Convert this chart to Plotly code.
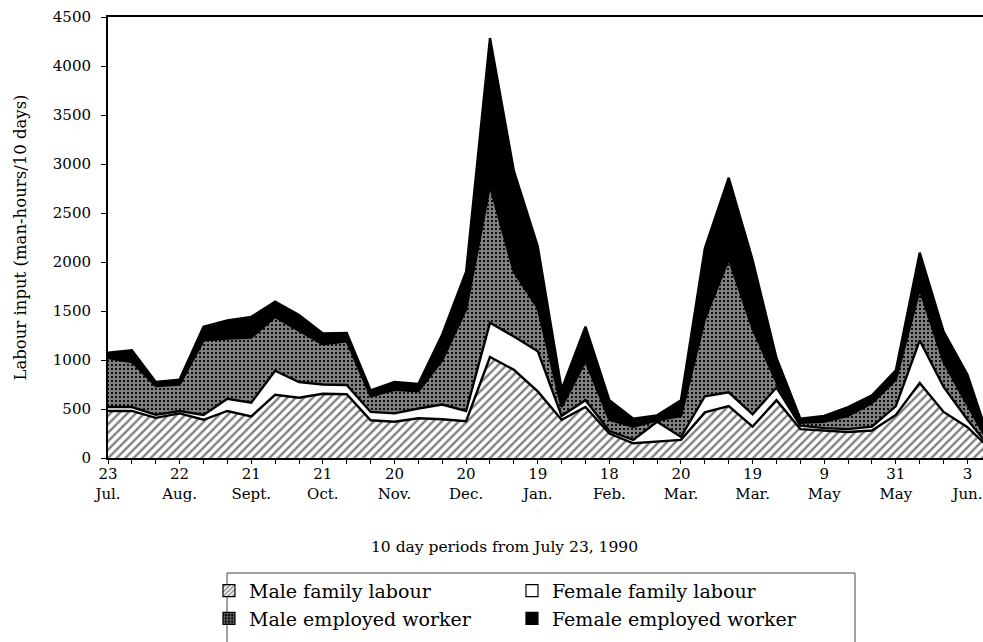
import plotly.graph_objects as go

# 10-day periods starting 23 July 1990 (index 0 = 23 Jul.)
periods = list(range(38))

# labelled periods on the x axis (every third period)
label_pos = [0, 3, 6, 9, 12, 15, 18, 21, 24, 27, 30, 33, 36]
label_day = ["23", "22", "21", "21", "20", "20", "19", "18", "20", "19", "9", "31", "3"]
label_month = ["Jul.", "Aug.", "Sept.", "Oct.", "Nov.", "Dec.", "Jan.", "Feb.",
               "Mar.", "Mar.", "May", "May", "Jun."]

# labour input per 10-day period (man-hours/10 days)
male_family = [480, 480, 410, 455, 390, 480, 425, 645, 615, 655,
               650, 385, 370, 405, 395, 375, 1030, 900, 680, 390,
               520, 250, 150, 165, 185, 465, 530, 320, 590, 295,
               280, 265, 280, 440, 765, 470, 315, 80]
female_family = [40, 40, 30, 25, 50, 125, 140, 245, 160, 95,
                 95, 85, 85, 100, 150, 105, 350, 340, 410, 40,
                 70, 25, 35, 205, 30, 165, 140, 125, 130, 35,
                 25, 30, 40, 90, 435, 255, 75, 10]
male_employed = [500, 460, 295, 270, 760, 615, 665, 550, 525, 410,
                 445, 160, 240, 175, 455, 1040, 1400, 660, 440, 90,
                 400, 115, 135, 15, 215, 790, 1360, 875, 50, 30,
                 65, 135, 240, 270, 520, 255, 150, 15]
female_employed = [55, 120, 40, 50, 140, 185, 210, 155, 160, 110,
                   85, 60, 80, 75, 260, 380, 1505, 1030, 630, 180,
                   350, 200, 80, 50, 160, 720, 830, 700, 250, 40,
                   60, 90, 80, 95, 375, 310, 310, 15]

series_names = ["Male family labour", "Female family labour",
                "Male employed worker", "Female employed worker"]

FONT = "DejaVu Serif"

fig = go.Figure()

hatch = dict(shape="/", fgcolor="black", bgcolor="white", size=6, solidity=0.4)
grid = dict(shape="+", fgcolor="white", bgcolor="black", size=4, solidity=0.8)

area_styles = [
    dict(fillpattern=hatch, fillcolor="white"),
    dict(fillcolor="white"),
    dict(fillpattern=grid, fillcolor="black"),
    dict(fillcolor="black"),
]

for name, vals, style in zip(series_names,
                             [male_family, female_family, male_employed, female_employed],
                             area_styles):
    fig.add_trace(go.Scatter(
        x=periods, y=vals, name=name, stackgroup="labour", mode="lines",
        line=dict(color="black", width=2.4), showlegend=False,
        hoverinfo="skip", **style))

# legend swatches (square keys)
legend_markers = [
    dict(color="white", pattern=dict(shape="/", fgcolor="black", bgcolor="white", size=4, solidity=0.45)),
    dict(color="white"),
    dict(color="black", pattern=dict(shape="+", fgcolor="white", bgcolor="black", size=4, solidity=0.5)),
    dict(color="black"),
]
for name, mk in zip(series_names, legend_markers):
    mk["line"] = dict(color="black", width=1.2)
    fig.add_trace(go.Bar(x=[None], y=[None], name=name, marker=mk, showlegend=True))

fig.update_layout(
    width=983, height=642,
    margin=dict(l=108, r=0, t=17, b=184, autoexpand=False),
    paper_bgcolor="white", plot_bgcolor="white",
    font=dict(family=FONT, size=15, color="black"),
    showlegend=True,
    legend=dict(
        orientation="h", x=0.1154, xanchor="left", y=-0.258, yanchor="top",
        entrywidth=258, entrywidthmode="pixels",
        borderwidth=0, bgcolor="rgba(0,0,0,0)",
        font=dict(family=FONT, size=19, color="black"),
        traceorder="normal", itemclick=False,
    ),
    # frame around the key
    shapes=[dict(type="path", xref="paper", yref="paper",
                 path="M 0.136,-0.44 L 0.136,-0.2608 L 0.8537,-0.2608 L 0.8537,-0.44",
                 line=dict(color="#444", width=1))],
    annotations=[dict(text="10 day periods from July 23, 1990", xref="paper", yref="paper",
                      x=0.4537, y=-0.2018, xanchor="center", yanchor="middle",
                      showarrow=False, font=dict(family=FONT, size=15.5))],
)

fig.update_xaxes(
    range=[0, 36.65], showgrid=False, zeroline=False,
    showline=True, linecolor="black", linewidth=2, mirror=True,
    tickmode="array", tickvals=label_pos,
    ticktext=[f"{d}<br>{m}" for d, m in zip(label_day, label_month)],
    ticks="outside", ticklen=4, tickwidth=1, tickcolor="black",
    minor=dict(dtick=1, ticks="outside", ticklen=4, tickwidth=1, tickcolor="black"),
    tickfont=dict(family=FONT, size=15), ticklabelstandoff=-3,
)

fig.update_yaxes(
    range=[0, 4500], dtick=500, showgrid=False, zeroline=False,
    showline=True, linecolor="black", linewidth=2,
    ticks="outside", ticklen=5, tickwidth=1, tickcolor="black",
    tickfont=dict(family=FONT, size=15), ticklabelstandoff=7,
    title=dict(text="Labour input (man-hours/10 days)", standoff=22,
               font=dict(family=FONT, size=16.5)),
)

fig.write_html("out.html")
